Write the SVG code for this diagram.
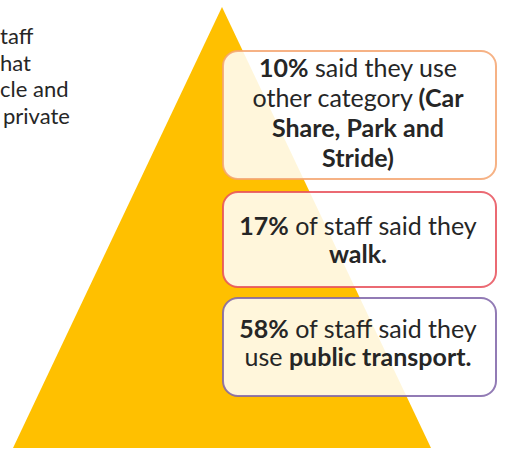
<svg xmlns="http://www.w3.org/2000/svg" width="506" height="451" viewBox="0 0 506 451">
<style>
  .t { font-family: Lato, "Open Sans", "Liberation Sans", sans-serif; fill: #262626; }
  .lt { font-size: 22px; }
  .bt { font-size: 25px; text-anchor: middle; }
  .b { font-weight: bold; }
  .box { fill: #ffffff; fill-opacity: 0.86; stroke-width: 2; stroke-opacity: 0.85; }
</style>
<rect width="506" height="451" fill="#ffffff"/>
<g id="pyramid">
  <polygon points="222,7 431,448 13,448" fill="#FFC000"/>
</g>
<g id="left-text">
  <text class="t lt" x="0" y="44">taff</text>
  <text class="t lt" x="0" y="70.5">hat</text>
  <text class="t lt" x="0" y="97">cle and</text>
  <text class="t lt" x="3" y="123.5">private</text>
</g>
<g id="box-other">
  <rect class="box" x="223" y="51" width="273" height="128" rx="15" stroke="#F4A470"/>
  <text class="t bt" x="358" y="77"><tspan class="b">10%</tspan> said they use</text>
  <text class="t bt" x="358" y="107">other category <tspan class="b">(Car</tspan></text>
  <text class="t bt b" x="358" y="137">Share, Park and</text>
  <text class="t bt b" x="358" y="167">Stride)</text>
</g>
<g id="box-walk">
  <rect class="box" x="223" y="192" width="273" height="95" rx="15" stroke="#E8505A"/>
  <text class="t bt" x="358" y="235"><tspan class="b">17%</tspan> of staff said they</text>
  <text class="t bt b" x="358" y="263">walk.</text>
</g>
<g id="box-public">
  <rect class="box" x="223" y="298" width="273" height="98" rx="15" stroke="#7F64A8"/>
  <text class="t bt" x="358" y="338"><tspan class="b">58%</tspan> of staff said they</text>
  <text class="t bt" x="358" y="366">use <tspan class="b">public transport.</tspan></text>
</g>
<g id="connectors"></g>
</svg>
